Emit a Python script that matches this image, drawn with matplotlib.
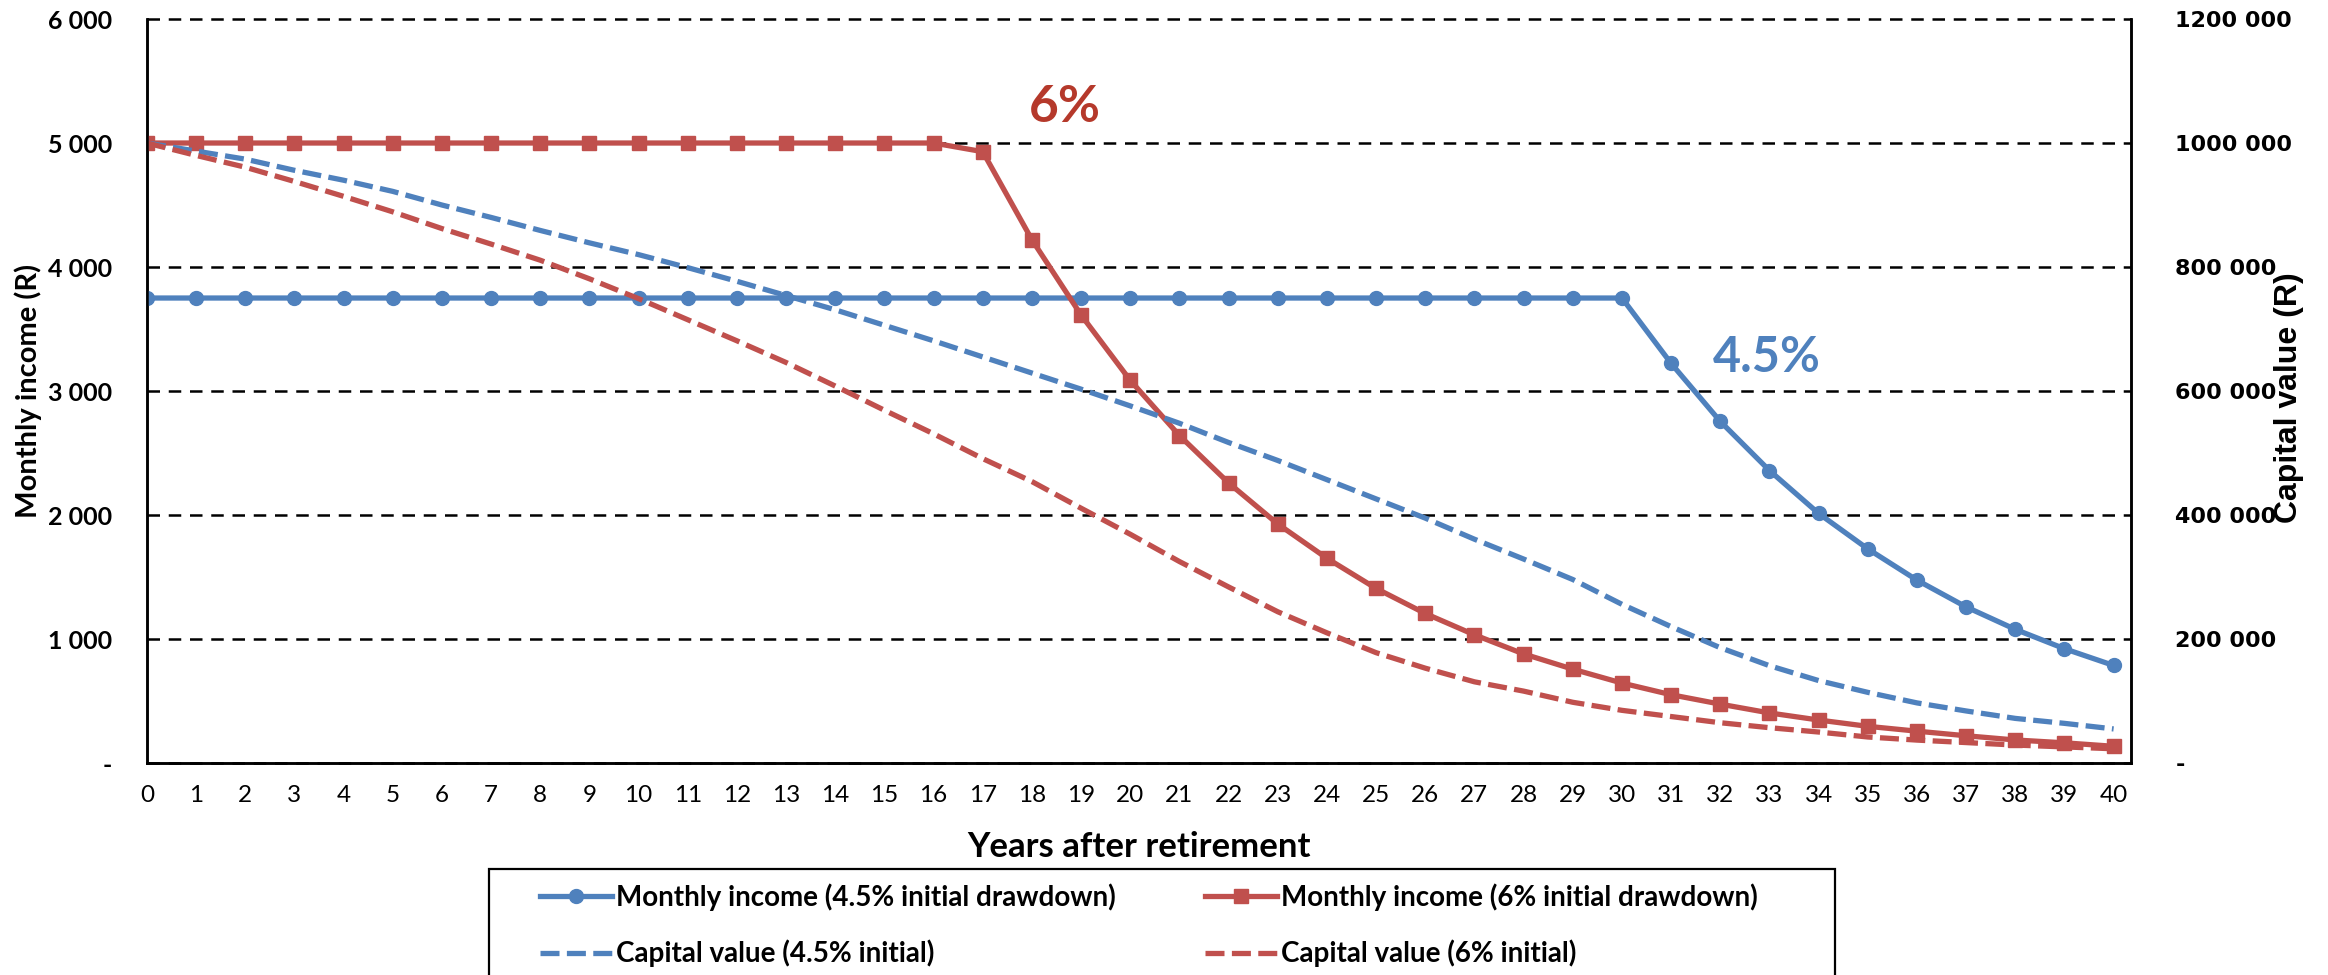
import matplotlib
matplotlib.use("Agg")
import matplotlib.pyplot as plt
from matplotlib.patches import Rectangle

plt.rcParams['font.family'] = ['Lato', 'DejaVu Sans']

BLUE = "#4F81BD"
RED = "#C0504D"

years = list(range(41))

# monthly income (R), left axis
income_45 = [3750, 3750, 3750, 3750, 3750, 3750, 3750, 3750, 3750, 3750,
             3750, 3750, 3750, 3750, 3750, 3750, 3750, 3750, 3750, 3750,
             3750, 3750, 3750, 3750, 3750, 3750, 3750, 3750, 3750, 3750,
             3750, 3223, 2755, 2359, 2013, 1727, 1475, 1259, 1078, 922, 787]
income_6 = [5000, 5000, 5000, 5000, 5000, 5000, 5000, 5000, 5000, 5000,
            5000, 5000, 5000, 5000, 5000, 5000, 5000, 4930, 4220, 3613,
            3086, 2641, 2259, 1928, 1651, 1408, 1206, 1034, 880, 757,
            645, 551, 475, 404, 347, 296, 257, 220, 186, 163, 135]

# capital value (R), right axis
capital_45 = [1000000, 987000, 974000, 956000, 940000, 922000, 900000, 880000, 859000, 839000,
              820000, 799000, 777000, 754000, 731000, 706000, 681000, 655000, 629000, 603000,
              576000, 548000, 517000, 488000, 457000, 426000, 395000, 361000, 329000, 296000,
              256000, 220000, 186000, 157000, 133000, 114000, 97000, 84000, 72000, 64000, 55000]
capital_6 = [1000000, 980000, 961000, 938000, 914000, 889000, 862000, 837000, 811000, 781000,
             749000, 715000, 681000, 646000, 608000, 569000, 531000, 491000, 454000, 411000,
             369000, 325000, 284000, 244000, 210000, 178000, 153000, 131000, 116000, 98000,
             85000, 75000, 65000, 57000, 50000, 42000, 37000, 33000, 29000, 26000, 23000]

left_ticks = [0, 1000, 2000, 3000, 4000, 5000, 6000]
left_labels = ["-", "1 000", "2 000", "3 000", "4 000", "5 000", "6 000"]
right_ticks = [0, 200000, 400000, 600000, 800000, 1000000, 1200000]
right_labels = ["-", "200 000", "400 000", "600 000", "800 000", "1000 000", "1200 000"]

W, H = 2328, 975
fig = plt.figure(figsize=(W / 100, H / 100), dpi=100)
ax = fig.add_axes([0.0631, 0.2174, 0.8522, 0.7631])
ax2 = ax.twinx()

l1, = ax.plot(years, income_45, color=BLUE, lw=3.8, marker="o", ms=10,
              label="Monthly income (4.5% initial drawdown)", zorder=3)
l2, = ax.plot(years, income_6, color=RED, lw=3.8, marker="s", ms=9.5,
              label="Monthly income (6% initial drawdown)", zorder=3)
l3, = ax2.plot(years, capital_45, color=BLUE, lw=3.8, dashes=(3.6, 1.4),
               label="Capital value (4.5% initial)")
l4, = ax2.plot(years, capital_6, color=RED, lw=3.8, dashes=(3.6, 1.4),
               label="Capital value (6% initial)")

ax.set_xlim(0, 40.35)
ax.set_ylim(0, 6000)
ax2.set_ylim(0, 1200000)

ax.set_xticks(years)
ax.set_xticklabels([str(y) for y in years], fontsize=17.5)
ax.set_yticks(left_ticks)
ax.set_yticklabels(left_labels, fontsize=18, fontweight="bold")
ax2.set_yticks(right_ticks)
ax2.set_yticklabels(right_labels, fontsize=16, fontweight="bold", family="DejaVu Sans")

ax.tick_params(axis="x", length=0, pad=16)
ax.tick_params(axis="y", length=0, pad=25)
ax2.tick_params(axis="y", length=0, pad=32)

ax.set_axisbelow(True)
ax.grid(axis="y", color="black", lw=1.8, dashes=(5, 3.5))
ax.grid(axis="x", visible=False)
for g in ax.yaxis.get_gridlines():
    g.set_clip_on(False)

for a in (ax, ax2):
    a.spines["top"].set_visible(False)
    for s in ("left", "right", "bottom"):
        a.spines[s].set_linewidth(1.8)
        a.spines[s].set_color("black")

ax.set_xlabel("Years after retirement", fontsize=25, fontweight="bold")
ax.xaxis.set_label_coords(0.5, -0.092)
fig.text(28 / W, 1 - 391 / H, "Monthly income (R)", rotation=90, fontsize=21,
         fontweight="bold", ha="center", va="center")
fig.text(2289 / W, 1 - 398 / H, "Capital value (R)", rotation=90, fontsize=23,
         fontweight="bold", family="Liberation Sans", ha="center", va="center")

ax.text(18.67, 5290, "6%", color="#B5392B", fontsize=37, fontweight="bold",
        ha="center", va="center")
ax.text(32.94, 3270, "4.5%", color=BLUE, fontsize=35, fontweight="bold",
        ha="center", va="center")

# legend frame runs off the bottom edge, as in the original
fig.patches.append(Rectangle((489 / W, -0.05), (1835 - 489) / W, (H - 869) / H + 0.05,
                             transform=fig.transFigure, fill=False,
                             edgecolor="black", lw=1.6))
fig.legend([l1, l3, l2, l4], [h.get_label() for h in (l1, l3, l2, l4)],
           loc="upper left", bbox_to_anchor=(540 / W, 1 - 883 / H),
           ncol=2, prop={"weight": "bold", "size": 20},
           frameon=False, borderpad=0, borderaxespad=0,
           handlelength=2.6, handletextpad=0.15, columnspacing=3.2,
           labelspacing=1.05, numpoints=1)

fig.savefig("out.png", dpi=100)
